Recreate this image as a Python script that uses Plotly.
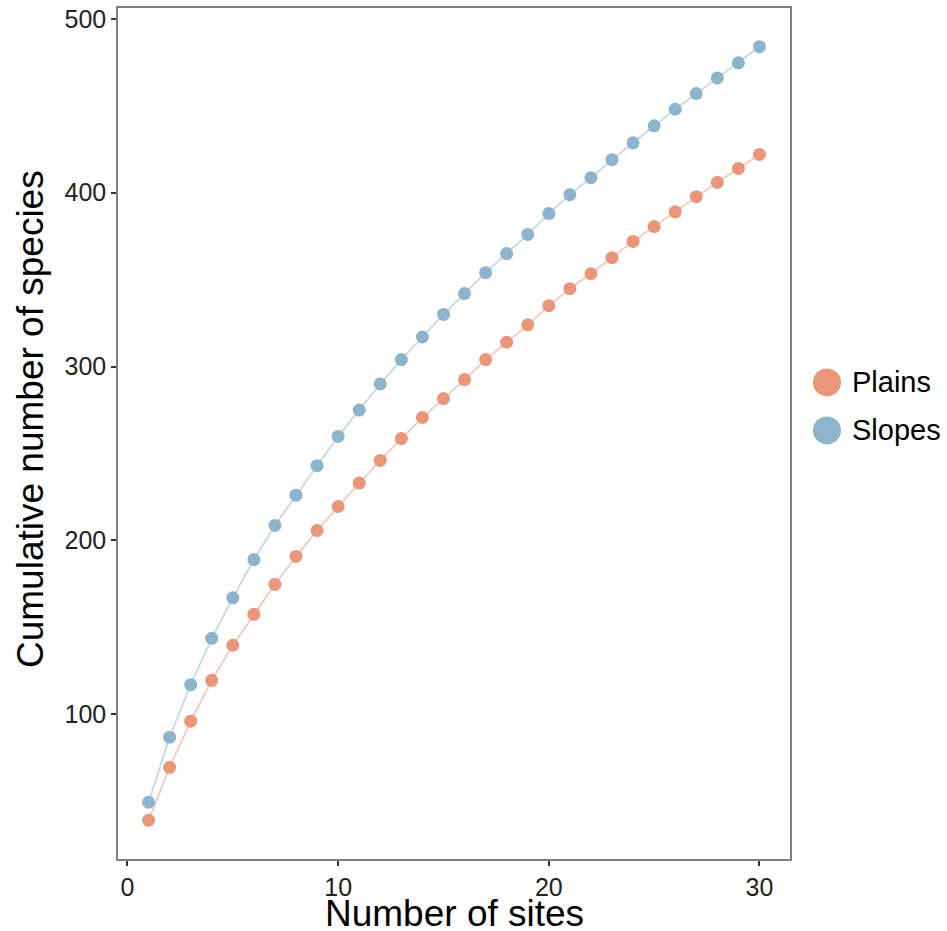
import plotly.graph_objects as go

sites = list(range(1, 31))
plains = [39, 69.5, 96, 119.5, 139.7, 157.5, 174.7, 190.8, 205.7, 219.5,
          233, 246, 258.6, 270.7, 281.6, 292.5, 304, 314, 324, 335,
          344.8, 353.4, 362.6, 372, 380.5, 389, 397.7, 406, 414, 422]
slopes = [49.4, 86.8, 117, 143.7, 167, 189, 208.6, 226, 243, 259.8,
          275, 290, 304, 317, 330, 342, 354, 365, 376, 388,
          398.9, 408.6, 419, 428.7, 438.5, 448, 457, 466, 474.7, 484]

groups = ["Plains", "Slopes"]
point_colors = {"Plains": "#E9967A", "Slopes": "#8DB4CC"}
line_colors = {"Plains": "rgba(233,150,122,0.5)", "Slopes": "rgba(141,180,204,0.5)"}
series = {"Plains": plains, "Slopes": slopes}

FONT = "Liberation Sans, Arial, sans-serif"
PW, PH = 672, 851  # plotting area size in px

fig = go.Figure()
for g in groups:
    fig.add_trace(go.Scatter(
        x=sites, y=series[g], mode="lines",
        line=dict(color=line_colors[g], width=1.8),
        showlegend=False, hoverinfo="skip"))
for g in groups:
    fig.add_trace(go.Scatter(
        x=sites, y=series[g], mode="markers", name=g,
        marker=dict(color=point_colors[g], size=13, line=dict(width=0)),
        showlegend=False))

# legend keys drawn as large circles with labels
legend_y = [0.56, 0.5036]
for g, ly in zip(groups, legend_y):
    fig.add_shape(type="circle", xref="paper", yref="paper",
                  x0=1.0 + 23 / PW, x1=1.0 + 51 / PW,
                  y0=ly - 14 / PH, y1=ly + 14 / PH,
                  fillcolor=point_colors[g], line=dict(width=0))
    fig.add_annotation(text=g, xref="paper", yref="paper",
                       x=1.0 + 60 / PW, y=ly, xanchor="left", yanchor="middle",
                       showarrow=False, font=dict(family=FONT, size=29, color="#000"))

# axis titles
fig.add_annotation(text="Number of sites", xref="paper", yref="paper",
                   x=0.5, y=-54 / PH, xanchor="center", yanchor="middle",
                   showarrow=False, font=dict(family=FONT, size=37, color="#000"))
fig.add_annotation(text="Cumulative number of species", xref="paper", yref="paper",
                   x=-88 / PW, y=440 / PH, xanchor="center", yanchor="middle",
                   textangle=-90, showarrow=False,
                   font=dict(family=FONT, size=37, color="#000"))

axis_common = dict(
    showgrid=False, zeroline=False, automargin=False,
    showline=True, linecolor="#7f7f7f", linewidth=1.5, mirror=True,
    ticks="outside", ticklen=5, tickwidth=2, tickcolor="#333",
    tickfont=dict(family=FONT, size=25, color="#222"),
)

fig.update_layout(
    width=947, height=931,
    margin=dict(l=118, r=157, t=8, b=72),
    paper_bgcolor="white", plot_bgcolor="white",
    xaxis=dict(range=[-0.45, 31.45], tickvals=[0, 10, 20, 30], **axis_common),
    yaxis=dict(range=[16.75, 506.25], tickvals=[100, 200, 300, 400, 500], **axis_common),
)

fig.write_html("out.html")
